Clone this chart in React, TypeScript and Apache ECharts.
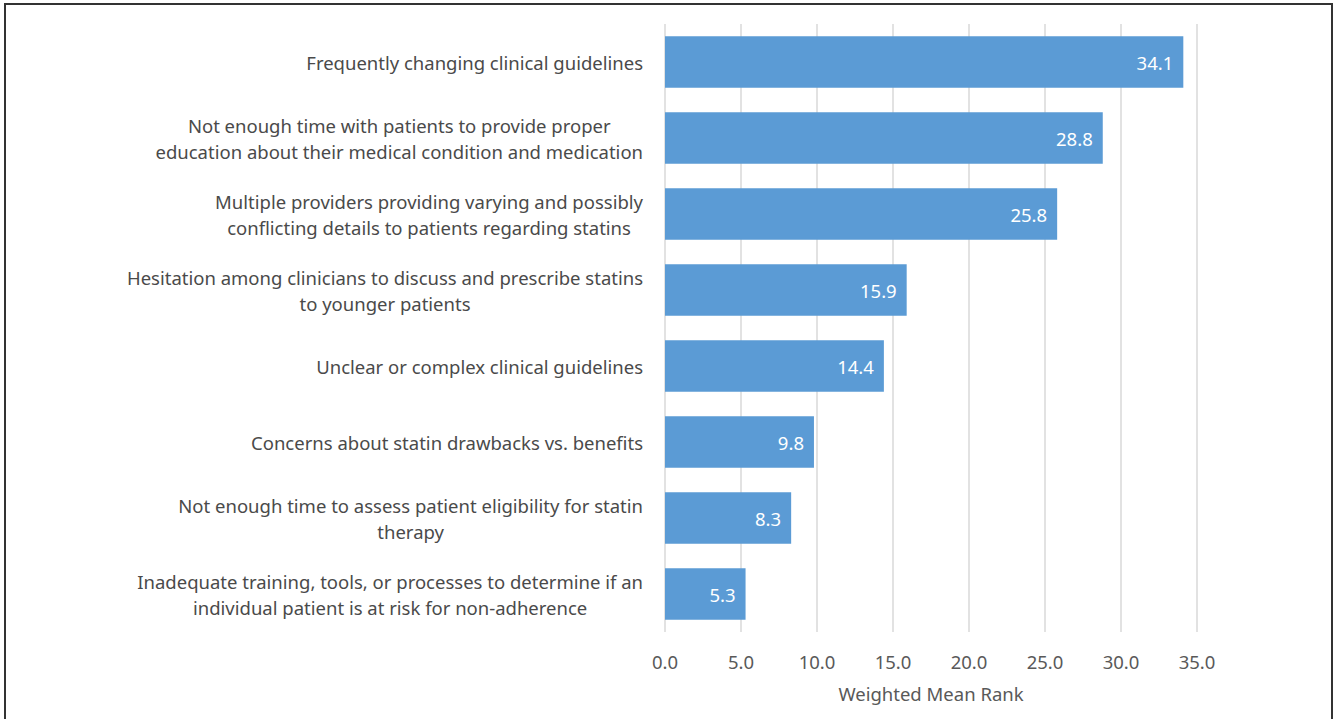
import React, { useEffect, useRef } from "react";
import * as echarts from "echarts";

const categories: string[] = [
  "Frequently changing clinical guidelines",
  "Not enough time with patients to provide proper\neducation about their medical condition and medication",
  "Multiple providers providing varying and possibly\nconflicting details to patients regarding statins",
  "Hesitation among clinicians to discuss and prescribe statins\nto younger patients",
  "Unclear or complex clinical guidelines",
  "Concerns about statin drawbacks vs. benefits",
  "Not enough time to assess patient eligibility for statin\ntherapy",
  "Inadequate training, tools, or processes to determine if an\nindividual patient is at risk for non-adherence",
];
const values: number[] = [34.1, 28.8, 25.8, 15.9, 14.4, 9.8, 8.3, 5.3];
const axisTitle = "Weighted Mean Rank";

const FONT = "'Noto Sans', 'Open Sans', sans-serif";

export default function App() {
  const ref = useRef<HTMLDivElement>(null);
  useEffect(() => {
    if (!ref.current) return;
    const chart = echarts.init(ref.current, undefined, { renderer: "svg" });
    chart.setOption({
      animation: false,
      backgroundColor: "#ffffff",
      textStyle: { fontFamily: FONT },
      grid: { left: 665, right: 136, top: 24, bottom: 87, containLabel: false },
      xAxis: {
        type: "value",
        min: 0,
        max: 35,
        interval: 5,
        axisLine: { show: false },
        axisTick: { show: false },
        splitLine: { show: true, lineStyle: { color: "#D9D9D9", width: 1.5 } },
        axisLabel: {
          color: "#595959",
          fontSize: 18.5,
          fontFamily: FONT,
          margin: 20,
          formatter: (v: number) => v.toFixed(1),
        },
        name: axisTitle,
        nameLocation: "middle",
        nameGap: 52,
        nameTextStyle: { color: "#595959", fontSize: 18.5, fontFamily: FONT },
      },
      yAxis: {
        type: "category",
        data: categories,
        inverse: true,
        axisLine: { show: false },
        axisTick: { show: false },
        splitLine: { show: false },
        axisLabel: {
          color: "#404040",
          fontSize: 18.5,
          fontFamily: FONT,
          margin: 22,
          align: "right",
          lineHeight: 26,
          formatter: (v: string) =>
            v
              .split("\n")
              .map((l) => "{c|" + l + "}")
              .join("\n"),
          rich: {
            c: {
              align: "center",
              color: "#4a4a4a",
              fontSize: 18.5,
              fontFamily: FONT,
              lineHeight: 26,
            },
          },
        },
      },
      series: [
        {
          type: "bar",
          data: values,
          barCategoryGap: "32%",
          itemStyle: { color: "#5B9BD5" },
          label: {
            show: true,
            position: "insideRight",
            distance: 10,
            color: "#ffffff",
            fontSize: 18.5,
            fontFamily: FONT,
            formatter: (p: any) => Number(p.value).toFixed(1),
          },
        },
      ],
      graphic: [
        {
          type: "rect",
          shape: { x: 5, y: 4, width: 1327, height: 740 },
          style: { fill: "none", stroke: "#333333", lineWidth: 2 },
          silent: true,
        },
      ],
    });
    return () => chart.dispose();
  }, []);
  return (
    <div
      ref={ref}
      style={{ position: "absolute", left: 0, top: 0, width: 1333, height: 719 }}
    />
  );
}
